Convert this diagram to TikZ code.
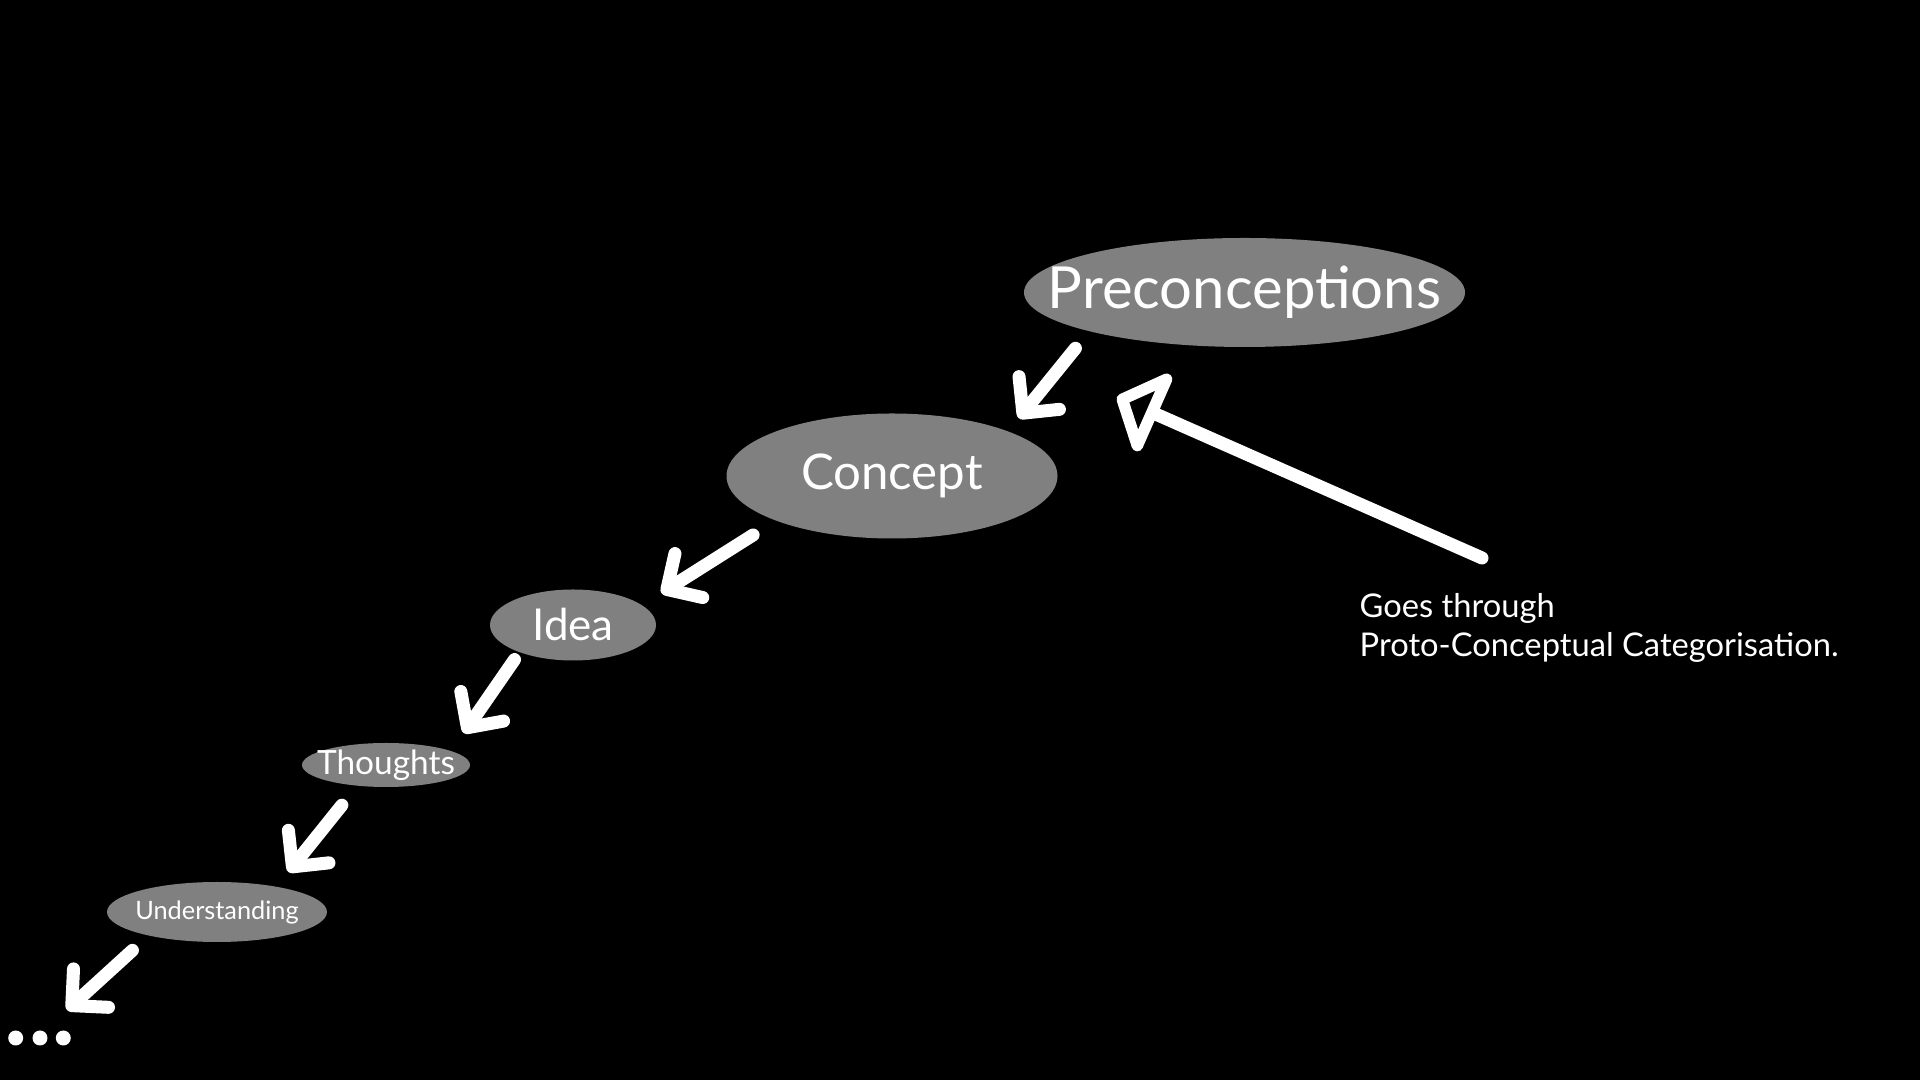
\documentclass[tikz,border=0pt]{standalone}
\usepackage{fontspec}
\setmainfont{Lato}
\usepackage{tikz}
\usetikzlibrary{shapes.geometric, arrows.meta, positioning}

\definecolor{bubblegray}{RGB}{128,128,128}

\begin{document}
\begin{tikzpicture}[
    bubble/.style={ellipse, fill=bubblegray, text=white, inner sep=0pt, outer sep=0pt,
        execute at begin node={\hbox to 0pt\bgroup\hss}, execute at end node={\hss\egroup}},
    flow/.style={white, line width=0.13cm, line cap=round,
        -{Straight Barb[length=0.26cm, width=0.52cm, line cap=round, line join=round]}},
    bigflow/.style={white, line width=0.13cm, line cap=round,
        -{Triangle[open, length=0.46cm, width=1.0cm, line join=round]}},
    on grid]

    % Background
    \fill[black] (0,0) rectangle (19.2,10.8);
    \useasboundingbox (0,0) rectangle (19.2,10.8);

    % Chain of bubbles
    \node[bubble, minimum width=4.41cm, minimum height=1.09cm, font=\fontsize{16.5}{19}\selectfont] (pre) at (12.445,7.875) {Preconceptions};
    \node[bubble, minimum width=3.31cm, minimum height=1.25cm, font=\fontsize{14}{17}\selectfont, below left=1.835cm and 3.525cm of pre] (con) {Concept};
    \node[bubble, minimum width=1.66cm, minimum height=0.71cm, font=\fontsize{12.5}{14}\selectfont, below left=1.49cm and 3.19cm of con] (idea) {Idea};
    \node[bubble, minimum width=1.68cm, minimum height=0.44cm, font=\fontsize{9.5}{11}\selectfont, below left=1.40cm and 1.87cm of idea] (thoughts) {Thoughts};
    \node[bubble, minimum width=2.20cm, minimum height=0.60cm, font=\fontsize{7.2}{8}\selectfont, below left=1.47cm and 1.69cm of thoughts] (und) {Understanding};

    % Trailing dots
    \foreach \x in {0.157, 0.40, 0.633}
        \fill[white] (\x,0.42) circle (0.075cm);
    \coordinate (more) at (0.67,0.70);

    % Note
    \node[text=white, align=left, anchor=base west, inner sep=0pt, font=\fontsize{9.3}{11.1}\selectfont] (note) at (13.59,4.23) {Goes through\\Proto-Conceptual Categorisation.};
    \coordinate (aim) at (11.17,6.83);

    % Links
    \draw[flow, shorten <=0.22cm, shorten >=0.17cm] (pre.194) -- (con.21);
    \draw[flow, shorten <=0.27cm, shorten >=0.23cm] (con.201) -- (idea.16);
    \draw[flow, shorten <=0.09cm, shorten >=0.22cm] (idea.207) -- (thoughts.12);
    \draw[flow, shorten <=0.25cm, shorten >=0.19cm] (thoughts.216) -- (und.23);
    \draw[flow, shorten <=0.22cm] (und.199) -- (more);
    \draw[bigflow] ([xshift=1.23cm, yshift=0.99cm]note.base west) -- (aim);

\end{tikzpicture}
\end{document}
